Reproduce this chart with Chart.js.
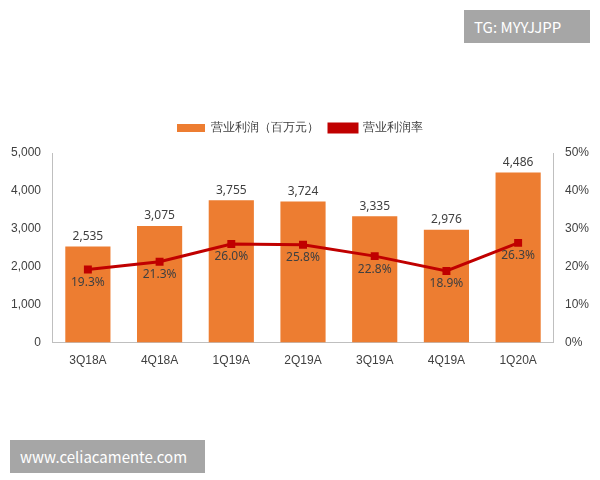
<!DOCTYPE html>
<html>
<head>
<meta charset="utf-8">
<script src="https://cdn.jsdelivr.net/npm/chart.js@4"></script>
<style>
  body { margin: 0; background: #fff; font-family: "Noto Sans CJK SC", "Noto Sans", sans-serif; }
  #wrap { position: relative; width: 600px; height: 480px; }
  #chart { position: absolute; left: 0; top: 112px; }
  .tag { position: absolute; background: #a6a6a6; color: #fff; font-size: 15px; padding: 6px 10px; }
</style>
</head>
<body>
<div id="wrap">
  <canvas id="chart" width="600" height="259"></canvas>
  <div class="tag" style="right:10px;top:10px;width:106px;">TG: MYYJJPP</div>
  <div class="tag" style="left:10px;top:440px;width:175px;">www.celiacamente.com</div>
</div>
<script>
const quarters = ["3Q18A", "4Q18A", "1Q19A", "2Q19A", "3Q19A", "4Q19A", "1Q20A"];
const profit = [2535, 3075, 3755, 3724, 3335, 2976, 4486];
const margin = [19.3, 21.3, 26.0, 25.8, 22.8, 18.9, 26.3];

const labelPlugin = {
  id: "labels",
  afterDatasetsDraw(chart) {
    const ctx = chart.ctx;
    ctx.save();
    ctx.font = "12px 'Noto Sans', sans-serif";
    ctx.fillStyle = "#404040";
    ctx.textAlign = "center";
    chart.getDatasetMeta(0).data.forEach((bar, i) => {
      ctx.textBaseline = "bottom";
      ctx.fillText(profit[i].toLocaleString("en-US"), bar.x, bar.y - 4);
    });
    chart.getDatasetMeta(1).data.forEach((pt, i) => {
      ctx.textBaseline = "top";
      ctx.fillText(margin[i].toFixed(1) + "%", pt.x, pt.y + 7);
    });
    ctx.restore();
  }
};

// extra gap below the legend
const legendGap = {
  id: "legendGap",
  beforeInit(chart) {
    const fit = chart.legend.fit;
    chart.legend.fit = function () { fit.bind(chart.legend)(); this.height += 9; };
  }
};

new Chart(document.getElementById("chart"), {
  data: {
    labels: quarters,
    datasets: [
      { type: "bar", label: "营业利润（百万元）", data: profit, backgroundColor: "#ED7D31",
        yAxisID: "y", order: 2, categoryPercentage: 0.9, barPercentage: 0.7 },
      { type: "line", label: "营业利润率", data: margin, borderColor: "#C00000", backgroundColor: "#C00000",
        borderWidth: 3, pointStyle: "rect", pointRadius: 3.5, yAxisID: "y1", order: 1 }
    ]
  },
  options: {
    responsive: false,
    animation: false,
    layout: { padding: { left: 8, right: 8, top: 0, bottom: 0 } },
    plugins: {
      legend: {
        position: "top",
        labels: { font: { size: 12 }, color: "#404040", boxWidth: 28, boxHeight: 8,
          sort: (a, b) => a.datasetIndex - b.datasetIndex }
      },
      tooltip: { enabled: false }
    },
    scales: {
      x: { grid: { display: false }, border: { color: "#bfbfbf" },
        ticks: { color: "#404040", font: { size: 12 } } },
      y: { min: 0, max: 5000, ticks: { stepSize: 1000, color: "#404040", font: { size: 12 },
          callback: v => v.toLocaleString("en-US") },
        grid: { display: false }, border: { color: "#bfbfbf" } },
      y1: { position: "right", min: 0, max: 50, ticks: { stepSize: 10, color: "#404040", font: { size: 12 },
          callback: v => v + "%" },
        grid: { display: false }, border: { color: "#bfbfbf" } }
    }
  },
  plugins: [labelPlugin, legendGap]
});
</script>
</body>
</html>
